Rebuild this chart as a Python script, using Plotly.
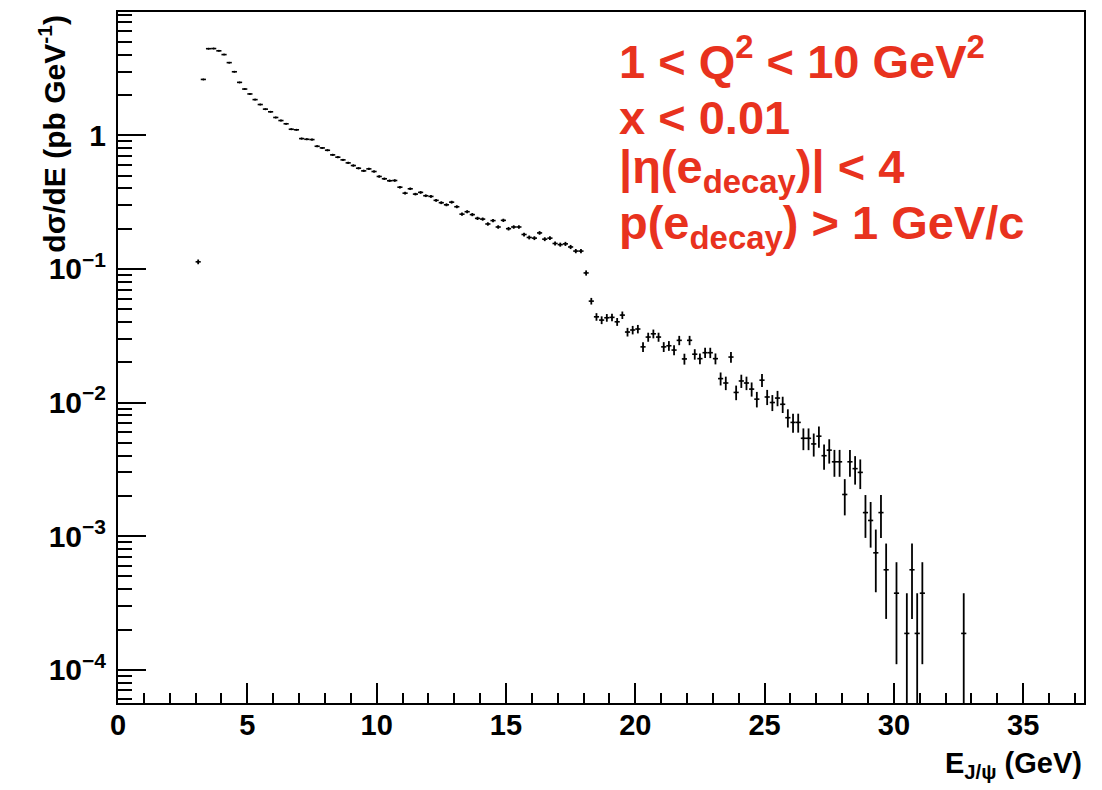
import plotly.graph_objects as go

# J/psi energy spectrum: bin centres (GeV), cross section (pb/GeV) and stat. errors
energy = [3.1, 3.3, 3.5, 3.7, 3.9, 4.1, 4.3, 4.5, 4.7, 4.9,
          5.1, 5.3, 5.5, 5.7, 5.9, 6.1, 6.3, 6.5, 6.7, 6.9,
          7.1, 7.3, 7.5, 7.7, 7.9, 8.1, 8.3, 8.5, 8.7, 8.9,
          9.1, 9.3, 9.5, 9.7, 9.9, 10.1, 10.3, 10.5, 10.7, 10.9,
          11.1, 11.3, 11.5, 11.7, 11.9, 12.1, 12.3, 12.5, 12.7, 12.9,
          13.1, 13.3, 13.5, 13.7, 13.9, 14.1, 14.3, 14.5, 14.7, 14.9,
          15.1, 15.3, 15.5, 15.7, 15.9, 16.1, 16.3, 16.5, 16.7, 16.9,
          17.1, 17.3, 17.5, 17.7, 17.9, 18.1, 18.3, 18.5, 18.7, 18.9,
          19.1, 19.3, 19.5, 19.7, 19.9, 20.1, 20.3, 20.5, 20.7, 20.9,
          21.1, 21.3, 21.5, 21.7, 21.9, 22.1, 22.3, 22.5, 22.7, 22.9,
          23.1, 23.3, 23.5, 23.7, 23.9, 24.1, 24.3, 24.5, 24.7, 24.9,
          25.1, 25.3, 25.5, 25.7, 25.9, 26.1, 26.3, 26.5, 26.7, 26.9,
          27.1, 27.3, 27.5, 27.7, 27.9, 28.1, 28.3, 28.5, 28.7, 28.9,
          29.1, 29.3, 29.5, 29.7, 30.1, 30.5, 30.7, 30.9, 31.1, 32.7]

dsigma = [0.113, 2.62, 4.45, 4.46, 4.29, 4.02, 3.50, 2.99, 2.49, 2.22,
          2.04, 1.85, 1.70, 1.57, 1.50, 1.36, 1.29, 1.22, 1.11, 1.10,
          0.945, 0.934, 0.929, 0.828, 0.805, 0.773, 0.714, 0.686, 0.655, 0.622,
          0.594, 0.567, 0.542, 0.561, 0.536, 0.492, 0.473, 0.457, 0.459, 0.409,
          0.369, 0.398, 0.363, 0.374, 0.353, 0.349, 0.326, 0.313, 0.302, 0.316,
          0.292, 0.257, 0.268, 0.255, 0.239, 0.236, 0.217, 0.230, 0.206, 0.231,
          0.200, 0.206, 0.206, 0.181, 0.172, 0.170, 0.186, 0.167, 0.170, 0.155,
          0.152, 0.154, 0.146, 0.136, 0.136, 0.0933, 0.0574, 0.0438, 0.0414, 0.0431,
          0.0434, 0.0402, 0.0451, 0.0337, 0.0349, 0.0355, 0.0261, 0.0309, 0.0327, 0.0309,
          0.0261, 0.0266, 0.0247, 0.0292, 0.0212, 0.0292, 0.0230, 0.0213, 0.0236, 0.0236,
          0.0213, 0.0151, 0.0140, 0.0219, 0.0119, 0.0145, 0.0140, 0.0126, 0.0106, 0.0147,
          0.0110, 0.0100, 0.0108, 0.0097, 0.0077, 0.0071, 0.0071, 0.0054, 0.0054, 0.0049,
          0.0056, 0.0040, 0.0044, 0.0036, 0.0036, 0.00205, 0.0036, 0.0032, 0.0030, 0.0015,
          0.00131, 0.00075, 0.0015, 0.00056, 0.000374, 0.000187, 0.00056, 0.000187, 0.000374, 0.000187]

dsigma_err = [0.0046, 0.0221, 0.0288, 0.0289, 0.0283, 0.0274, 0.0256, 0.0236, 0.0216, 0.0204,
              0.0195, 0.0186, 0.0178, 0.0171, 0.0167, 0.0160, 0.0155, 0.0151, 0.0144, 0.0143,
              0.0133, 0.0132, 0.0132, 0.0124, 0.0123, 0.0120, 0.0116, 0.0113, 0.0111, 0.0108,
              0.0105, 0.0103, 0.0101, 0.0102, 0.0100, 0.0096, 0.0094, 0.0092, 0.0093, 0.0087,
              0.0083, 0.0086, 0.0082, 0.0084, 0.0081, 0.0081, 0.0078, 0.0076, 0.0075, 0.0077,
              0.0074, 0.0069, 0.0071, 0.0069, 0.0067, 0.0066, 0.0064, 0.0066, 0.0062, 0.0066,
              0.0061, 0.0062, 0.0062, 0.0058, 0.0057, 0.0056, 0.0059, 0.0056, 0.0056, 0.0054,
              0.0053, 0.0054, 0.0052, 0.0050, 0.0050, 0.00418, 0.00328, 0.00286, 0.00278, 0.00284,
              0.00285, 0.00274, 0.00290, 0.00251, 0.00255, 0.00258, 0.00221, 0.00240, 0.00247, 0.00240,
              0.00221, 0.00223, 0.00215, 0.00234, 0.00199, 0.00234, 0.00207, 0.00200, 0.00210, 0.00210,
              0.00200, 0.00168, 0.00162, 0.00202, 0.00149, 0.00165, 0.00162, 0.00153, 0.00141, 0.00166,
              0.00143, 0.00137, 0.00142, 0.00135, 0.00120, 0.00115, 0.00115, 0.00100, 0.00100, 0.00096,
              0.00102, 0.00086, 0.00091, 0.00082, 0.00082, 0.00062, 0.00082, 0.00077, 0.00075, 0.00053,
              0.00049, 0.00037, 0.00053, 0.00032, 0.000264, 0.000187, 0.00032, 0.000187, 0.000264, 0.000187]

bin_half_width = 0.1

y_tick_vals = [1e-4, 1e-3, 1e-2, 1e-1, 1]
y_tick_text = ["10<sup>−4</sup>", "10<sup>−3</sup>", "10<sup>−2</sup>", "10<sup>−1</sup>", "1"]

cut_lines = [
    "1 < Q<sup>2</sup> < 10 GeV<sup>2</sup>",
    "x < 0.01",
    "|η(e<sub>decay</sub>)| < 4",
    "p(e<sub>decay</sub>) > 1 GeV/c",
]

FONT = "Liberation Sans"
RED = "#e8321e"

fig = go.Figure()
fig.add_trace(go.Scatter(
    x=energy, y=dsigma, mode="markers",
    marker=dict(size=2, color="black"),
    error_x=dict(type="constant", value=bin_half_width, width=0, thickness=1.6, color="black"),
    error_y=dict(type="data", array=dsigma_err, width=0, thickness=1.8, color="black"),
    showlegend=False,
))

# minor ticks of the log axis: 2..9 within each decade
minor_y = [m * 10.0 ** d for d in range(-5, 1) for m in range(2, 10)]

fig.update_layout(
    width=1102, height=790,
    margin=dict(l=118, r=18, t=10, b=87),
    paper_bgcolor="white", plot_bgcolor="white",
    font=dict(family=FONT, color="black"),
    xaxis=dict(
        range=[0, 37.35], showgrid=False, zeroline=False,
        showline=True, linewidth=2, linecolor="black", mirror=True,
        ticks="inside", ticklen=20, tickwidth=1.5, tickcolor="black",
        dtick=5, tick0=0,
        minor=dict(ticks="inside", ticklen=10, tickwidth=1.5, tickcolor="black", dtick=1, showgrid=False),
        tickfont=dict(size=29, weight="bold"),
        ticklabelstandoff=-5,
    ),
    yaxis=dict(
        type="log", range=[-4.249, 0.923], showgrid=False, zeroline=False,
        showline=True, linewidth=2, linecolor="black", mirror=True,
        ticks="inside", ticklen=28, tickwidth=1.5, tickcolor="black",
        tickmode="array", tickvals=y_tick_vals, ticktext=y_tick_text,
        minor=dict(ticks="inside", ticklen=14, tickwidth=1.5, tickcolor="black",
                   tickmode="array", tickvals=minor_y, showgrid=False),
        tickfont=dict(size=30, weight="bold"),
        ticklabelstandoff=4,
    ),
)

# axis titles (ROOT style: right / top aligned)
fig.add_annotation(
    xref="paper", yref="paper", x=1.0, y=-0.0895, xanchor="right", yanchor="middle",
    text="E<sub>J/ψ</sub> (GeV)", showarrow=False,
    font=dict(size=29, weight="bold", family=FONT),
)
fig.add_annotation(
    xref="paper", yref="paper", x=-0.0683, y=0.824, xanchor="center", yanchor="middle",
    text="dσ/dE (pb GeV<sup>-1</sup>)", showarrow=False, textangle=-90,
    font=dict(size=30, weight="bold", family=FONT),
)

# kinematic cuts
line_y = [0.933, 0.848, 0.771, 0.69]
for txt, yy in zip(cut_lines, line_y):
    fig.add_annotation(
        xref="paper", yref="paper", x=0.5164, y=yy, xanchor="left", yanchor="middle",
        text=txt, showarrow=False,
        font=dict(size=47, weight="bold", family=FONT, color=RED),
    )

fig.write_html("out.html")
